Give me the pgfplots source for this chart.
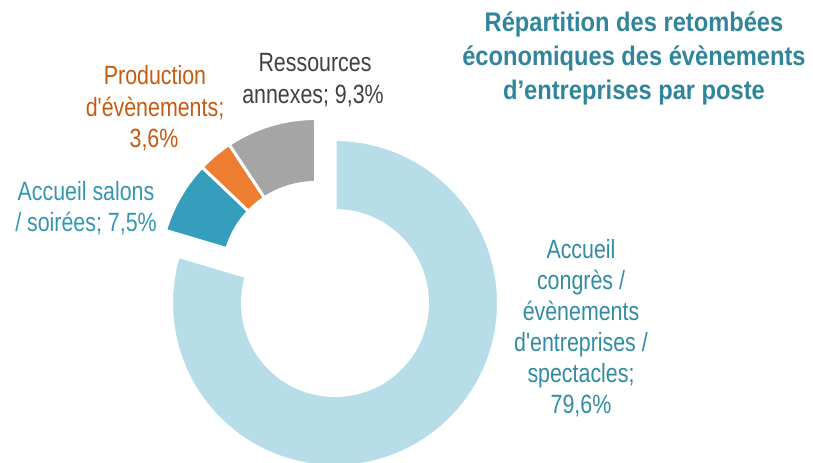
\documentclass[border=0pt]{standalone}
\usepackage{pgfplots}
\pgfplotsset{compat=1.18}
\usepackage{fontspec}
\setmainfont{Liberation Sans}[FakeStretch=0.81, Ligatures=TeXOff]
\newfontfamily\titlefont{Liberation Sans}[FakeStretch=0.88, Ligatures=TeXOff]
\definecolor{cBig}{RGB}{183,222,232}
\definecolor{cSalons}{RGB}{52,158,188}
\definecolor{cProd}{RGB}{237,125,49}
\definecolor{cRess}{RGB}{165,165,165}
\definecolor{cTitle}{RGB}{49,133,155}
\definecolor{tBig}{RGB}{49,140,163}
\definecolor{tSalons}{RGB}{52,150,178}
\definecolor{tProd}{RGB}{197,90,17}
\definecolor{tRess}{RGB}{64,64,64}
% slice: cx, cy, R, r, start (%), value (%), colour
\newcommand\donutslice[7]{%
  \pgfmathsetmacro\aS{#5*3.6}%
  \pgfmathsetmacro\aE{(#5+#6)*3.6}%
  \pgfmathsetmacro\xo{#1+#3*sin(\aS)}%
  \pgfmathsetmacro\yo{#2-#3*cos(\aS)}%
  \pgfmathsetmacro\xi{#1+#4*sin(\aE)}%
  \pgfmathsetmacro\yi{#2-#4*cos(\aE)}%
  \pgfmathsetmacro\cS{90-\aS}%
  \pgfmathsetmacro\cE{90-\aE}%
  \fill[#7, draw=white, line width=3bp, line join=miter]
    (axis cs:\xo,\yo) arc[start angle=\cS, end angle=\cE, radius=#3bp]
    -- (axis cs:\xi,\yi) arc[start angle=\cE, end angle=\cS, radius=#4bp] -- cycle;
}
\begin{document}
\begin{tikzpicture}
\begin{axis}[name=ax, scale only axis, width=813bp, height=463bp,
  xmin=0, xmax=813, ymin=0, ymax=463, y dir=reverse,
  enlargelimits=false, hide axis, clip=true]
\pgfplotsextra{%
  % Accueil congrès / évènements d'entreprises / spectacles: 79.6
  \donutslice{335}{303}{163.5}{92.5}{0}{79.6}{cBig}
  % Accueil salons / soirées: 7.5
  \donutslice{315.5}{275}{156.5}{92.5}{79.6}{7.5}{cSalons}
  % Production d'évènements: 3.6
  \donutslice{315.5}{275}{156.5}{92.5}{87.1}{3.6}{cProd}
  % Ressources annexes: 9.3
  \donutslice{315.5}{275}{156.5}{92.5}{90.7}{9.3}{cRess}
}
% title
\node[anchor=base, font=\titlefont\bfseries\fontsize{27}{30}\selectfont, text=cTitle] at (axis cs:634,32) {Répartition des retombées};
\node[anchor=base, font=\titlefont\bfseries\fontsize{27}{30}\selectfont, text=cTitle] at (axis cs:634,66) {économiques des évènements};
\node[anchor=base, font=\titlefont\bfseries\fontsize{27}{30}\selectfont, text=cTitle] at (axis cs:634,99) {d’entreprises par poste};
% labels
\node[anchor=base, font=\fontsize{26.5}{30}\selectfont, text=tRess] at (axis cs:315,72) {Ressources};
\node[anchor=base, font=\fontsize{26.5}{30}\selectfont, text=tRess] at (axis cs:313,103) {annexes; 9,3\%};
\node[anchor=base, font=\fontsize{26.5}{30}\selectfont, text=tProd] at (axis cs:155,85) {Production};
\node[anchor=base, font=\fontsize{26.5}{30}\selectfont, text=tProd] at (axis cs:155,116) {d'évènements;};
\node[anchor=base, font=\fontsize{26.5}{30}\selectfont, text=tProd] at (axis cs:154,147) {3,6\%};
\node[anchor=base, font=\fontsize{26.5}{30}\selectfont, text=tSalons] at (axis cs:86,200) {Accueil salons};
\node[anchor=base, font=\fontsize{26.5}{30}\selectfont, text=tSalons] at (axis cs:86,231) {/ soirées; 7,5\%};
\node[anchor=base, font=\fontsize{26.5}{30}\selectfont, text=tBig] at (axis cs:581,258) {Accueil};
\node[anchor=base, font=\fontsize{26.5}{30}\selectfont, text=tBig] at (axis cs:581,289) {congrès /};
\node[anchor=base, font=\fontsize{26.5}{30}\selectfont, text=tBig] at (axis cs:581,320) {évènements};
\node[anchor=base, font=\fontsize{26.5}{30}\selectfont, text=tBig] at (axis cs:581,351) {d'entreprises /};
\node[anchor=base, font=\fontsize{26.5}{30}\selectfont, text=tBig] at (axis cs:581,382) {spectacles;};
\node[anchor=base, font=\fontsize{26.5}{30}\selectfont, text=tBig] at (axis cs:581,413) {79,6\%};
\end{axis}
\pgfresetboundingbox
\path[use as bounding box] (ax.south west) rectangle (ax.north east);
\end{tikzpicture}
\end{document}
